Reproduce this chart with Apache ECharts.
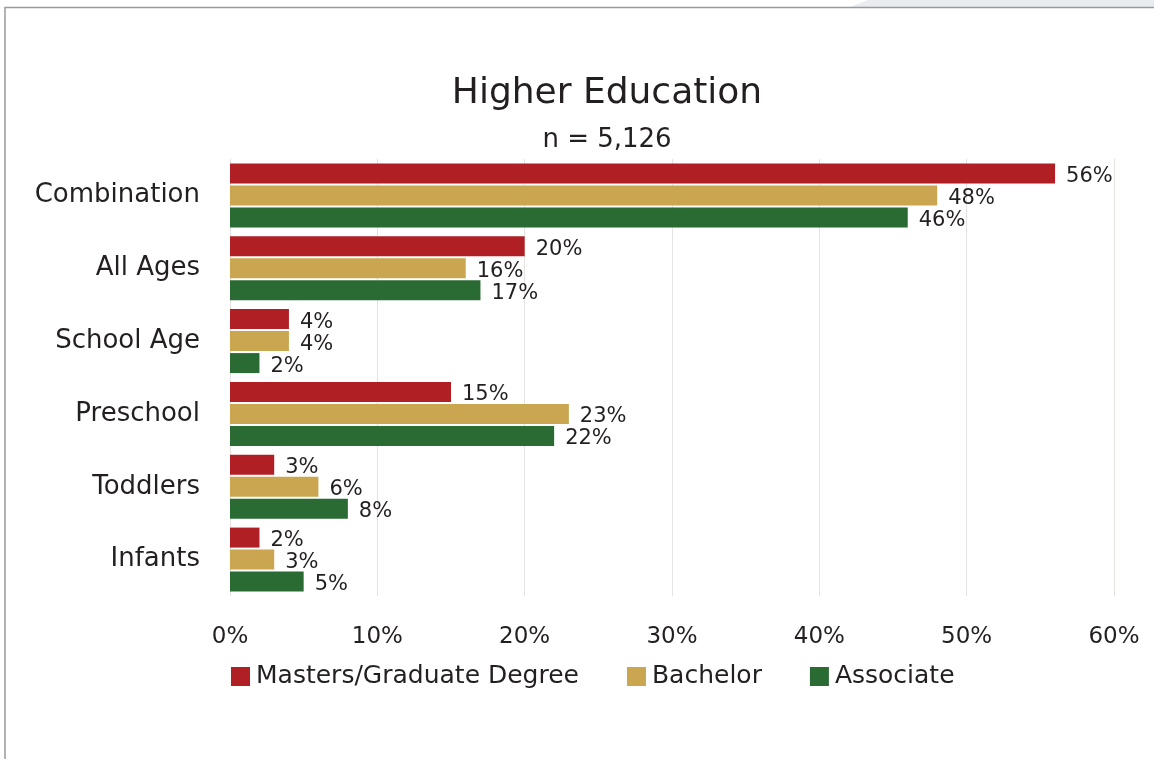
<!DOCTYPE html>
<html>
<head>
<meta charset="utf-8">
<script src="https://cdn.jsdelivr.net/npm/echarts@6/dist/echarts.min.js"></script>
<style>
  html, body { margin: 0; padding: 0; background: #ffffff; }
  #chart { width: 1154px; height: 759px; }
</style>
</head>
<body>
<div id="chart"></div>
<script>
// Age groups served, top to bottom
const categories = ['Combination', 'All Ages', 'School Age', 'Preschool', 'Toddlers', 'Infants'];

// Percent of respondents by highest degree
const masters   = [56, 20, 4, 15, 3, 2];
const bachelor  = [48, 16, 4, 23, 6, 3];
const associate = [46, 17, 2, 22, 8, 5];

const xTicks = [0, 10, 20, 30, 40, 50, 60];

const FONT = '"DejaVu Sans", "Noto Sans", sans-serif';
const TEXT = '#231f20';

const chart = echarts.init(document.getElementById('chart'), null, { renderer: 'canvas' });

function barSeries(name, values, color) {
  return {
    name: name,
    type: 'bar',
    data: values,
    barWidth: 20,
    barGap: '10%',
    itemStyle: { color: color },
    label: {
      show: true,
      position: 'right',
      distance: 11,
      offset: [0, 3],
      formatter: '{c}%',
      color: TEXT,
      fontFamily: FONT,
      fontSize: 21
    }
  };
}

chart.setOption({
  animation: false,
  backgroundColor: '#ffffff',
  title: {
    text: 'Higher Education',
    subtext: 'n = 5,126',
    left: 602,
    textAlign: 'center',
    top: 71,
    itemGap: 15,
    textStyle: { fontFamily: FONT, fontSize: 36, fontWeight: 'normal', color: TEXT },
    subtextStyle: { fontFamily: FONT, fontSize: 26, color: TEXT }
  },
  legend: {
    top: 659,
    left: 226,
    itemWidth: 19,
    itemHeight: 19,
    itemGap: 48,
    icon: 'rect',
    textStyle: { fontFamily: FONT, fontSize: 25, color: TEXT, padding: [0, 0, 0, 1] },
    data: ['Masters/Graduate Degree', 'Bachelor', 'Associate']
  },
  grid: { left: 230, right: 40, top: 159, height: 437, containLabel: false },
  xAxis: {
    type: 'value',
    min: xTicks[0],
    max: xTicks[xTicks.length - 1],
    interval: 10,
    axisLine: { show: false },
    axisTick: { show: false },
    axisLabel: {
      formatter: '{value}%',
      fontFamily: FONT,
      fontSize: 23,
      color: TEXT,
      margin: 30
    },
    splitLine: { show: true, lineStyle: { color: '#e6e2e0', width: 1 } }
  },
  yAxis: {
    type: 'category',
    data: categories,
    inverse: true,
    axisLine: { show: false },
    axisTick: { show: false },
    axisLabel: { fontFamily: FONT, fontSize: 26, color: TEXT, margin: 30 }
  },
  graphic: [
    // light panel edge in the top right corner
    {
      type: 'polygon',
      silent: true,
      shape: { points: [[850, 7], [868, 0], [1154, 0], [1154, 7]] },
      style: { fill: '#e9edf1' }
    },
    // frame lines
    {
      type: 'polyline',
      silent: true,
      shape: { points: [[5, 759], [5, 7.5], [1154, 7.5]] },
      style: { stroke: '#9a9a9a', lineWidth: 1.5, fill: null }
    }
  ],
  series: [
    barSeries('Masters/Graduate Degree', masters, '#b01f24'),
    barSeries('Bachelor', bachelor, '#c9a64f'),
    barSeries('Associate', associate, '#2a6b34')
  ]
});
</script>
</body>
</html>
